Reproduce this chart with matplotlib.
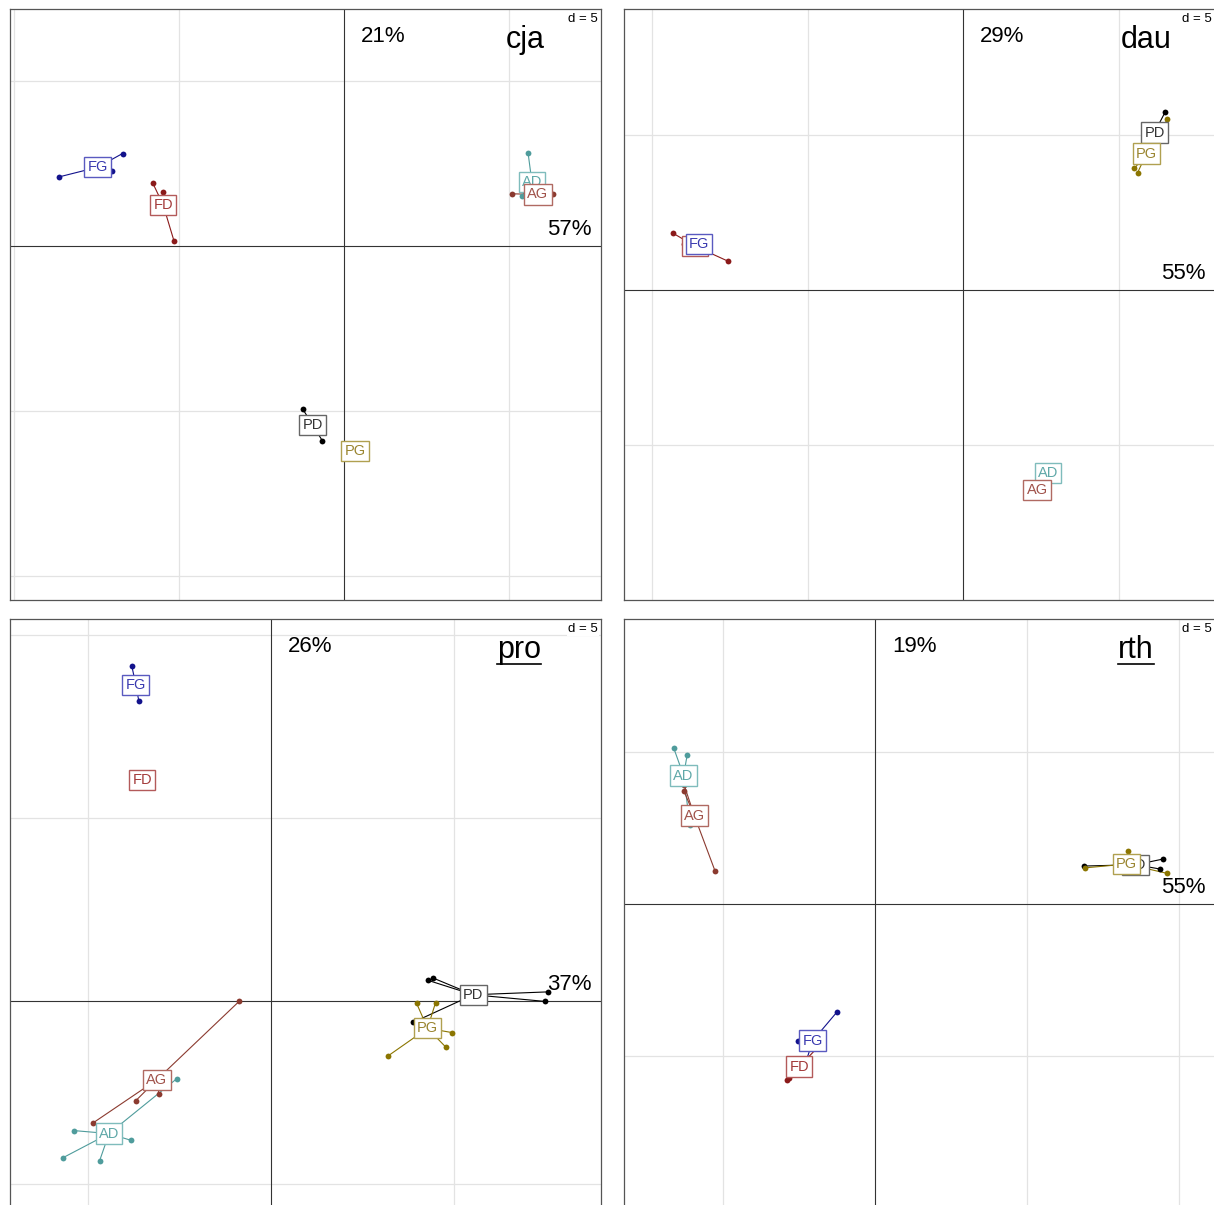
import matplotlib
matplotlib.use("Agg")
import matplotlib.pyplot as plt
from matplotlib.lines import Line2D
import numpy as np

plt.rcParams['font.family'] = ['Liberation Sans', 'DejaVu Sans']

# panels and their eigenvalue percentages
panels = ["cja", "dau", "pro", "rth"]
underlined = [False, False, True, True]
eig_x = ["57%", "55%", "37%", "55%"]
eig_y = ["21%", "29%", "26%", "19%"]
grid_d = 5
levels = ["AD", "AG", "FD", "FG", "PD", "PG"]

# individual scores per panel (group, axis1, axis2)
cja_grp = ["FG", "FG", "FG", "FD", "FD", "FD", "AD", "AD", "AD",
           "AG", "AG", "AG", "PD", "PD", "PG", "PG", "PG"]
cja_x = [-8.64, -6.71, -7.03, -5.80, -5.48, -5.15, 5.58, 5.39, 6.12,
         5.09, 6.33, 6.21, -1.25, -0.65, 0.30, 0.36, 0.33]
cja_y = [2.09, 2.80, 2.27, 1.92, 1.64, 0.15, 2.82, 1.52, 1.45,
         1.58, 1.58, 1.52, -4.94, -5.91, -6.20, -6.22, -6.21]

dau_grp = ["FG", "FG", "FG", "FD", "FD", "FD", "PD", "PD", "PD",
           "PG", "PG", "PG", "AD", "AD", "AD", "AG", "AG", "AG"]
dau_x = [-8.52, -8.47, -8.48, -9.31, -7.56, -8.98, 6.50, 5.85, 6.11,
         6.57, 5.51, 5.61, 2.70, 2.76, 2.73, 2.25, 2.45, 2.44]
dau_y = [1.50, 1.46, 1.48, 1.82, 0.93, 1.49, 5.73, 4.73, 4.73,
         5.49, 3.91, 3.77, -5.85, -5.90, -5.89, -6.60, -6.35, -6.34]

pro_grp = ["FG", "FG", "FG", "FD", "FD", "FD",
           "PD", "PD", "PD", "PD", "PD", "PG", "PG", "PG", "PG", "PG",
           "AG", "AG", "AG", "AG", "AD", "AD", "AD", "AD", "AD"]
pro_x = [-3.80, -3.61, -3.66, -3.52, -3.50, -3.54,
         4.28, 4.43, 7.56, 7.49, 3.89, 3.98, 4.50, 4.94, 4.78, 3.20,
         -0.87, -4.86, -3.69, -3.06, -2.57, -5.38, -3.81, -5.68, -4.68]
pro_y = [9.15, 8.20, 8.55, 6.04, 6.05, 6.03,
         0.57, 0.63, 0.25, -0.01, -0.58, -0.06, -0.04, -0.86, -1.26, -1.50,
         -0.01, -3.33, -2.72, -2.55, -2.12, -3.54, -3.81, -4.28, -4.36]

rth_grp = ["AD", "AD", "AD", "AG", "AG", "AG", "PD", "PD", "PD",
           "PG", "PG", "PG", "FG", "FG", "FG", "FD", "FD", "FD"]
rth_x = [-6.63, -6.18, -6.09, -6.29, -5.27, -6.28, 6.88, 9.47, 9.38,
         8.31, 6.91, 9.60, -1.26, -2.54, -2.35, -2.90, -2.84, -1.73]
rth_y = [5.15, 4.92, 2.60, 3.72, 1.10, 3.91, 1.25, 1.48, 1.15,
         1.75, 1.19, 1.01, -3.56, -4.51, -5.42, -5.79, -5.71, -4.55]

groups = [cja_grp, dau_grp, pro_grp, rth_grp]
xvals = [cja_x, dau_x, pro_x, rth_x]
yvals = [cja_y, dau_y, pro_y, rth_y]

# styling
point_cols = {"AD": "#4f9c9c", "AG": "#8b3a2f", "FD": "#8b1a1a",
              "FG": "#12128c", "PD": "#000000", "PG": "#8b7500"}
label_cols = {"AD": "#5fa8a8", "AG": "#a0524a", "FD": "#a33a3a",
              "FG": "#3a3ab0", "PD": "#333333", "PG": "#9a8530"}
box_cols = {"AD": "#7fbcbc", "AG": "#b06a62", "FD": "#b35a5a",
            "FG": "#5a5ac0", "PD": "#666666", "PG": "#b0a050"}

W, H = 1214, 1205
S = 591
boxes_px = [(10, 9), (624, 9), (10, 619), (624, 619)]
xlims = [(-10.12, 7.79), (-10.90, 8.10), (-7.13, 9.02), (-8.26, 11.18)]
ylims = [(-10.73, 7.18), (-9.97, 9.04), (-5.71, 10.44), (-10.07, 9.38)]
title_dx = [76, 69, 82, 79]
PT = 0.72  # points per pixel at dpi 100

fig = plt.figure(figsize=(W / 100, H / 100), dpi=100)
titles = []

for i, name in enumerate(panels):
    left, top = boxes_px[i]
    ax = fig.add_axes([left / W, 1 - (top + S) / H, S / W, S / H])
    ax.set_xlim(xlims[i])
    ax.set_ylim(ylims[i])
    ax.set_xticks([])
    ax.set_yticks([])
    for sp in ax.spines.values():
        sp.set_color("#555555")
        sp.set_linewidth(0.9)

    # grid with spacing d
    for g in np.arange(np.ceil(xlims[i][0] / grid_d), xlims[i][1] / grid_d + 1e-9) * grid_d:
        if g != 0:
            ax.axvline(g, color="#e3e3e3", lw=0.9, zorder=0)
    for g in np.arange(np.ceil(ylims[i][0] / grid_d), ylims[i][1] / grid_d + 1e-9) * grid_d:
        if g != 0:
            ax.axhline(g, color="#e3e3e3", lw=0.9, zorder=0)
    ax.axvline(0, color="#333333", lw=0.8, zorder=1)
    ax.axhline(0, color="#333333", lw=0.8, zorder=1)

    grp = np.array(groups[i])
    x = np.array(xvals[i])
    y = np.array(yvals[i])

    centres = {}
    for lev in levels:
        m = grp == lev
        if not m.any():
            continue
        cx, cy = x[m].mean(), y[m].mean()
        centres[lev] = (cx, cy)
        for px, py in zip(x[m], y[m]):
            ax.plot([cx, px], [cy, py], color=point_cols[lev], lw=0.8, zorder=2)
        ax.plot(x[m], y[m], "o", color=point_cols[lev], ms=4.2, mew=0, zorder=3)

    for lev in levels:
        if lev not in centres:
            continue
        cx, cy = centres[lev]
        ax.text(cx, cy, lev, color=label_cols[lev], fontsize=10.5,
                ha="center", va="center", zorder=5,
                bbox=dict(boxstyle="square,pad=0.22", fc="white",
                          ec=box_cols[lev], lw=1.0))

    # eigenvalue percentages
    ax.annotate(eig_y[i], xy=(0, 1), xycoords=ax.get_xaxis_transform(),
                xytext=(17 * PT, -33 * PT), textcoords="offset points",
                ha="left", va="baseline", fontsize=16, zorder=6)
    ax.annotate(eig_x[i], xy=(1, 0), xycoords=ax.get_yaxis_transform(),
                xytext=(-9 * PT, 11 * PT), textcoords="offset points",
                ha="right", va="baseline", fontsize=16, zorder=6)
    t = ax.annotate(name, xy=(1, 1), xycoords="axes fraction",
                    xytext=(-title_dx[i] * PT, -39 * PT), textcoords="offset points",
                    ha="center", va="baseline", fontsize=22, zorder=6)
    titles.append((t, underlined[i]))
    ax.annotate("d = 5", xy=(1, 1), xycoords="axes fraction",
                xytext=(-3 * PT, -13 * PT), textcoords="offset points",
                ha="right", va="baseline", fontsize=9.5, zorder=6,
                bbox=dict(boxstyle="square,pad=0.1", fc="white", ec="none"))

# underline titles where needed
fig.canvas.draw()
renderer = fig.canvas.get_renderer()
for t, u in titles:
    if not u:
        continue
    bb = t.get_window_extent(renderer)
    yl = bb.y0 + 1
    fig.add_artist(Line2D([bb.x0 / W, bb.x1 / W], [yl / H, yl / H],
                          transform=fig.transFigure, color="black", lw=1.2))

fig.savefig("out.png", dpi=100)
